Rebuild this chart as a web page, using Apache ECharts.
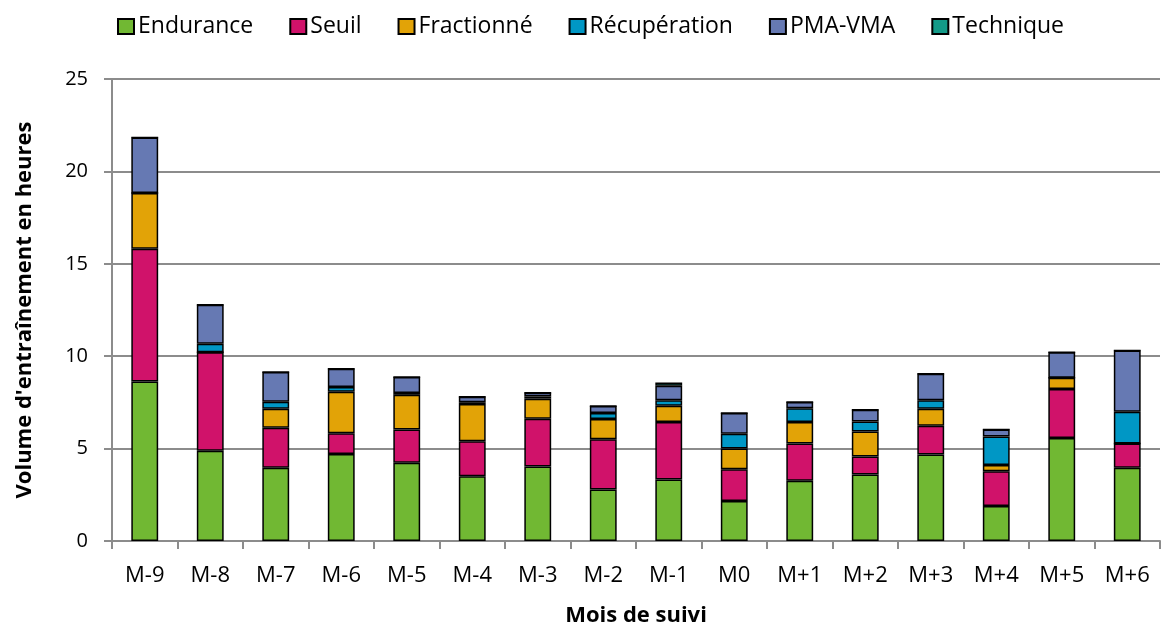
<!DOCTYPE html>
<html>
<head>
<meta charset="utf-8">
<script src="https://cdn.jsdelivr.net/npm/echarts@6/dist/echarts.min.js"></script>
<style>
  html, body { margin: 0; padding: 0; background: #fff; }
  #chart { width: 1167px; height: 632px; }
</style>
</head>
<body>
<div id="chart"></div>
<script>
// Months of follow-up
const months = ['M-9', 'M-8', 'M-7', 'M-6', 'M-5', 'M-4', 'M-3', 'M-2', 'M-1', 'M0', 'M+1', 'M+2', 'M+3', 'M+4', 'M+5', 'M+6'];

// Training volume per intensity zone (hours)
const endurance    = [8.63, 4.89, 3.96, 4.71, 4.24, 3.51, 4.03, 2.79, 3.33, 2.16, 3.26, 3.60, 4.68, 1.89, 5.57, 3.96];
const seuil        = [7.18, 5.33, 2.17, 1.12, 1.80, 1.89, 2.59, 2.71, 3.11, 1.72, 2.01, 0.97, 1.55, 1.89, 2.66, 1.32];
const fractionne   = [3.02, 0.00, 1.03, 2.25, 1.87, 2.01, 1.08, 1.10, 0.88, 1.12, 1.17, 1.35, 0.92, 0.33, 0.60, 0.00];
const recuperation = [0.00, 0.46, 0.38, 0.25, 0.10, 0.10, 0.12, 0.32, 0.29, 0.81, 0.74, 0.54, 0.47, 1.55, 0.00, 1.71];
const pmaVma       = [3.00, 2.11, 1.60, 0.99, 0.87, 0.30, 0.20, 0.38, 0.79, 1.11, 0.34, 0.64, 1.43, 0.38, 1.39, 3.32];
const technique    = [0.00, 0.00, 0.00, 0.00, 0.00, 0.00, 0.00, 0.00, 0.18, 0.00, 0.00, 0.00, 0.00, 0.00, 0.00, 0.00];

const yTicks = [0, 5, 10, 15, 20, 25];

const seriesDefs = [
  { name: 'Endurance',    data: endurance,    color: '#71B833' },
  { name: 'Seuil',        data: seuil,        color: '#D0126A' },
  { name: 'Fractionné',   data: fractionne,   color: '#E2A307' },
  { name: 'Récupération', data: recuperation, color: '#0097C5' },
  { name: 'PMA-VMA',      data: pmaVma,       color: '#6679B3' },
  { name: 'Technique',    data: technique,    color: '#139A88' }
];

const FONT = '"Open Sans", Lato, sans-serif';
const GRID_GREY = '#8c8c8c';

const chart = echarts.init(document.getElementById('chart'), null, { renderer: 'canvas' });

chart.setOption({
  animation: false,
  textStyle: { fontFamily: FONT, color: '#000' },
  legend: {
    top: 10,
    left: 112,
    icon: 'rect',
    itemWidth: 16,
    itemHeight: 15,
    itemGap: 36,
    textStyle: { fontFamily: FONT, fontSize: 23, color: '#000', padding: [0, 0, 0, -1] },
    data: seriesDefs.map(s => s.name)
  },
  grid: { left: 112, right: 7, top: 79, bottom: 91, containLabel: false },
  xAxis: {
    type: 'category',
    data: months,
    name: 'Mois de suivi',
    nameLocation: 'middle',
    nameGap: 64,
    nameTextStyle: { fontFamily: FONT, fontSize: 22, fontWeight: 'bold', color: '#000' },
    axisLine: { lineStyle: { color: GRID_GREY, width: 2 } },
    axisTick: { show: true, length: 8, lineStyle: { color: GRID_GREY, width: 2 } },
    axisLabel: { fontFamily: FONT, fontSize: 22, color: '#000', margin: 24 }
  },
  yAxis: {
    type: 'value',
    min: yTicks[0],
    max: yTicks[yTicks.length - 1],
    interval: 5,
    name: "Volume d'entraînement en heures",
    nameLocation: 'middle',
    nameGap: 76,
    nameRotate: 90,
    nameTextStyle: { fontFamily: FONT, fontSize: 22, fontWeight: 'bold', color: '#000' },
    axisLine: { show: true, lineStyle: { color: GRID_GREY, width: 2 } },
    axisTick: { show: true, length: 8, lineStyle: { color: GRID_GREY, width: 2 } },
    axisLabel: { fontFamily: FONT, fontSize: 20, color: '#000', margin: 24 },
    splitLine: { show: true, lineStyle: { color: GRID_GREY, width: 2 } }
  },
  series: seriesDefs.map(s => ({
    name: s.name,
    type: 'bar',
    stack: 'volume',
    barWidth: '41%',
    data: s.data,
    itemStyle: { color: s.color, borderColor: '#000', borderWidth: 1.5 }
  }))
});
</script>
</body>
</html>
